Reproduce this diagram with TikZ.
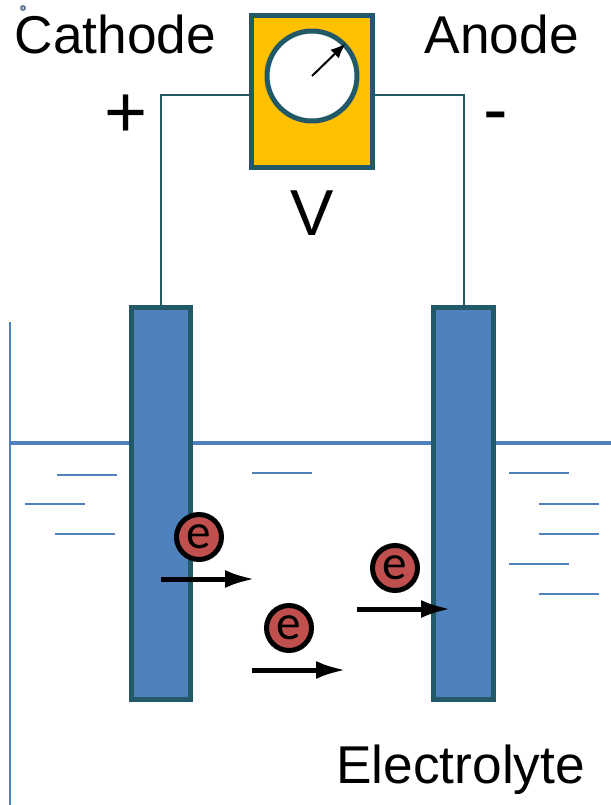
\documentclass[tikz,border=0pt]{standalone}
\usepackage{fontspec}
\setmainfont{Liberation Sans}
\newfontfamily\chargefont{Carlito}
\usetikzlibrary{arrows.meta}
\definecolor{rim}{HTML}{215968}
\definecolor{plate}{HTML}{4F81BD}
\definecolor{dial}{HTML}{FFC000}
\definecolor{charge}{HTML}{C0504D}
\tikzset{
	wire/.style={rim,line width=0.04cm},
	level/.style={plate,line width=0.03cm},
	electrode/.style={draw=rim,fill=plate,line width=0.1cm,minimum width=1.2cm,minimum height=7.86cm,outer sep=0pt,inner sep=0pt},
	electron/.style={circle,draw=black,fill=charge,line width=0.1cm,minimum size=0.9cm,inner sep=0pt,font=\chargefont\fontsize{28}{28}\selectfont},
	flow/.style={-{Latex[length=0.6cm,width=0.36cm]},line width=0.1cm},
	label/.style={inner sep=0pt,anchor=base west,font=\fontsize{30.3}{30.3}\selectfont},
	sign/.style={inner sep=0pt,anchor=base,font=\fontsize{42}{42}\selectfont}
}
\begin{document}
\begin{tikzpicture}[x=0.02cm,y=-0.02cm]
	\useasboundingbox (0,0) rectangle (611,805);

	% Draw tank and liquid surface
	\draw[plate,line width=0.05cm] (10,322) -- (10,805);
	\draw[plate,line width=0.08cm] (10,443) -- (611,443);
	\foreach \x/\y in {57/475,25/504,55/534,252/473,509/473,539/504,539/534,509/564,539/594}
		\draw[level] (\x,\y) -- ++(60,0);

	% Draw electrodes
	\node[electrode] (cathode) at (161,503.5) {};
	\node[electrode] (anode) at (463.5,503.5) {};

	% Draw meter
	\node[draw=rim,fill=dial,line width=0.1cm,minimum width=2.43cm,minimum height=3.05cm,outer sep=0pt] (meter) at (312,91.5) {};
	\node[circle,draw=rim,fill=white,line width=0.1cm,minimum size=1.8cm,inner sep=0pt] (gauge) at (312,76) {};
	\coordinate (needle) at (345.5,43.5);
	\draw[-{Latex[length=0.3cm,width=0.24cm]},line width=0.04cm] (gauge.center) -- (needle);

	% Draw wires
	\coordinate (leftlead) at (251.5,95);
	\coordinate (rightlead) at (373,95);
	\draw[wire] (leftlead) -| (cathode.north);
	\draw[wire] (rightlead) -| (anode.north);

	% Draw electrons
	\node[electron] (ea) at (199,537) {e};
	\node[electron] (eb) at (289,628) {e};
	\node[electron] (ec) at (395,568) {e};
	\coordinate (fa) at (161,579);
	\coordinate (ga) at (255,579);
	\coordinate (fb) at (252,670);
	\coordinate (gb) at (346,670);
	\coordinate (fc) at (357,609);
	\coordinate (gc) at (451,609);
	\draw[flow] (fa) -- (ga);
	\draw[flow] (fb) -- (gb);
	\draw[flow] (fc) -- (gc);

	% Label everything
	\node[label] (cathodetext) at (14.5,53) {Cathode};
	\node[label] (anodetext) at (424.5,53) {Anode};
	\node[inner sep=0pt,anchor=base,font=\fontsize{37}{37}\selectfont] (volt) at (312,235) {V};
	\node[label] (liquid) at (336,783) {Electrolyte};
	\node[sign] (plus) at (126,137) {+};
	\node[sign] (minus) at (496,134) {-};
	\node[circle,draw=plate!60!black,fill=plate!50,line width=0.02cm,inner sep=0pt,minimum size=0.09cm] (speck) at (23,8) {};
\end{tikzpicture}
\end{document}
